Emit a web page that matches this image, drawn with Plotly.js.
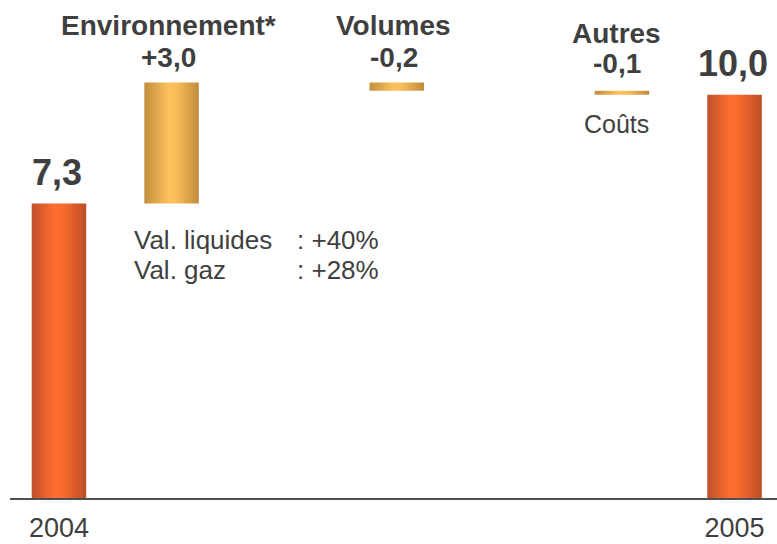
<!DOCTYPE html>
<html>
<head>
<meta charset="utf-8">
<script src="https://cdn.plot.ly/plotly-3.0.1.min.js"></script>
<style>
  html, body { margin: 0; padding: 0; background: #ffffff; }
  #chart { width: 777px; height: 544px; }
</style>
</head>
<body>
<div id="chart"></div>
<script>
// ---- data ----
const categories = ['2004', 'Environnement*', 'Volumes', 'Autres', '2005'];
const barKinds = ['total', 'delta', 'delta', 'delta', 'total'];
const values = [7.3, 3.0, -0.2, -0.1, 10.0];
const valueLabels = ['7,3', '+3,0', '-0,2', '-0,1', '10,0'];
const slots = [0, 1, 3, 5, 6];
const axisTickLabels = ['2004', '2005'];
const noteLabels = ['Val. liquides', 'Val. gaz'];
const noteValues = [': +40%', ': +28%'];
const subLabel = 'Coûts';

// ---- styles ----
const TEXT = '#3f3f3f';
const FONT = 'Liberation Sans, Arial, sans-serif';
const orangeScale = [[0, '#C0502A'], [0.42, '#FF6E30'], [0.58, '#F86A2D'], [1, '#BC4D26']];
const goldScale = [[0, '#C28F3E'], [0.45, '#FEC15E'], [0.6, '#F7BB59'], [1, '#C08C3C']];
const BAR_W = 0.484;

// compute waterfall bases / tops
const bases = [], tops = [];
let running = 0;
values.forEach((v, i) => {
  if (barKinds[i] === 'total') { bases.push(0); tops.push(v); running = v; }
  else {
    const from = running, to = running + v;
    bases.push(Math.min(from, to)); tops.push(Math.max(from, to));
    running = to;
  }
});

const traces = categories.map((c, i) => {
  const x0 = slots[i] - BAR_W / 2, x1 = slots[i] + BAR_W / 2;
  const isTotal = barKinds[i] === 'total';
  return {
    type: 'scatter', mode: 'lines', name: c,
    x: [x0, x1, x1, x0, x0],
    y: [bases[i], bases[i], tops[i], tops[i], bases[i]],
    fill: 'toself',
    fillcolor: isTotal ? '#F0642C' : '#E9AE52',
    fillgradient: { type: 'horizontal', colorscale: isTotal ? orangeScale : goldScale },
    line: { width: 0 },
    hoverinfo: 'skip'
  };
});

const annotations = [];
categories.forEach((c, i) => {
  if (barKinds[i] === 'total') {
    annotations.push({
      x: slots[i], y: tops[i], xref: 'x', yref: 'y', text: valueLabels[i],
      showarrow: false, xanchor: 'center', yanchor: 'middle',
      xshift: -1.5, yshift: 31,
      font: { family: FONT, size: 36, color: TEXT, weight: 'bold' }
    });
  } else {
    const xs = c === 'Autres' ? -5 : -3;
    const ts = 57;
    const ds = c === 'Autres' ? 27 : 25;
    annotations.push({
      x: slots[i], y: tops[i], xref: 'x', yref: 'y', text: c,
      showarrow: false, xanchor: 'center', yanchor: 'middle',
      xshift: xs, yshift: ts,
      font: { family: FONT, size: 28, color: TEXT, weight: 'bold' }
    });
    annotations.push({
      x: slots[i], y: tops[i], xref: 'x', yref: 'y', text: valueLabels[i],
      showarrow: false, xanchor: 'center', yanchor: 'middle',
      xshift: xs, yshift: ds,
      font: { family: FONT, size: 28, color: TEXT, weight: 'bold' }
    });
  }
});
// "Coûts" under the Autres bar
const iAutres = categories.indexOf('Autres');
annotations.push({
  x: slots[iAutres], y: bases[iAutres], xref: 'x', yref: 'y', text: subLabel,
  showarrow: false, xanchor: 'center', yanchor: 'middle', xshift: -5, yshift: -29,
  font: { family: FONT, size: 25, color: TEXT }
});
// notes under the Environnement bar
const noteY = [6.40, 5.66];
noteLabels.forEach((t, k) => {
  annotations.push({
    x: 0.65, y: noteY[k], xref: 'x', yref: 'y', text: t, showarrow: false,
    xanchor: 'left', yanchor: 'middle',
    font: { family: FONT, size: 26, color: TEXT }
  });
  annotations.push({
    x: 2.10, y: noteY[k], xref: 'x', yref: 'y', text: noteValues[k], showarrow: false,
    xanchor: 'left', yanchor: 'middle',
    font: { family: FONT, size: 26, color: TEXT }
  });
});

const layout = {
  width: 777, height: 544,
  margin: { l: 10, r: 0, t: 14, b: 46 },
  paper_bgcolor: '#ffffff', plot_bgcolor: '#ffffff',
  showlegend: false,
  xaxis: {
    range: [-0.435, 6.377], showgrid: false, zeroline: false,
    showline: true, linecolor: '#505050', linewidth: 2,
    tickmode: 'array', tickvals: [slots[0], slots[slots.length - 1]], ticktext: axisTickLabels,
    ticks: '', ticklabelstandoff: 5,
    tickfont: { family: FONT, size: 27, color: TEXT }
  },
  yaxis: { range: [0, 12], visible: false, showgrid: false, zeroline: false },
  annotations: annotations
};

Plotly.newPlot('chart', traces, layout, { staticPlot: true, displayModeBar: false });
</script>
</body>
</html>
